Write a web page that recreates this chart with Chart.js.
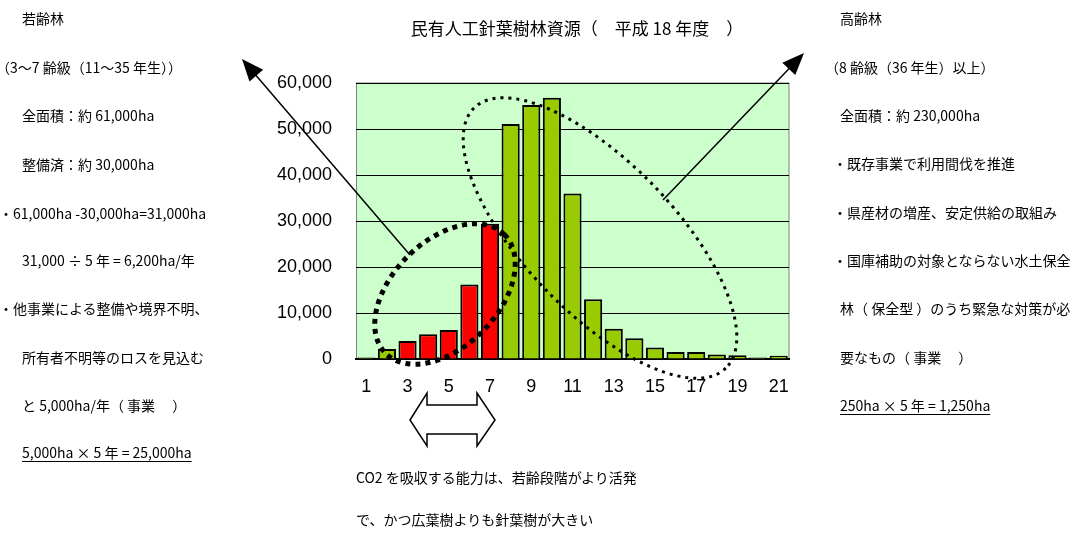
<!DOCTYPE html>
<html lang="ja">
<head>
<meta charset="utf-8">
<title>民有人工針葉樹林資源</title>
<script src="https://cdn.jsdelivr.net/npm/chart.js@4.4.1/dist/chart.umd.min.js"></script>
<style>
    html, body { margin: 0; padding: 0; background: #fff; }
    #page { position: relative; width: 1076px; height: 534px; overflow: hidden; }
    #page canvas { position: absolute; left: 0; top: 0; }
    .t { position: absolute; font-family: "Noto Sans CJK JP", sans-serif; font-size: 14px; line-height: 20px; color: #000; white-space: pre; }
    .u { text-decoration: underline; text-underline-offset: 3px; }
    #title { position: absolute; left: 0; width: 1154px; top: 17px; text-align: center; font-family: "Noto Sans CJK JP", sans-serif; font-size: 17px; line-height: 22px; white-space: pre; }
</style>
</head>
<body>
<div id="page">
    <canvas id="forestChart" width="1076" height="534"></canvas>
    <div id="title">民有人工針葉樹林資源（　平成 18 年度　）</div>
</div>
<script>
// 齢級ごとの面積 (ha)
const ageClasses = ['1', '2', '3', '4', '5', '6', '7', '8', '9', '10', '11',
                    '12', '13', '14', '15', '16', '17', '18', '19', '20', '21'];
const areaValues = [300, 2200, 3900, 5400, 6300, 16200, 29400, 51100, 55200, 56800, 36000,
                    13000, 6600, 4500, 2500, 1500, 1500, 1000, 800, 300, 700];
const youngClasses = ['3', '4', '5', '6', '7'];
const yMax = 60000;
const yStep = 10000;

// 注記テキスト [文字, left, 行の中心y, 下線]
const leftNotes = [
    ['若齢林', 22, 18],
    ['（3～7 齢級（11～35 年生））', -4, 67],
    ['全面積：約 61,000ha', 22, 115],
    ['整備済：約 30,000ha', 22, 164],
    ['・61,000ha -30,000ha=31,000ha', -1, 213],
    ['31,000 ÷ 5 年 = 6,200ha/年', 22, 260],
    ['・他事業による整備や境界不明、', -1, 308],
    ['所有者不明等のロスを見込む', 22, 357],
    ['と 5,000ha/年（ 事業　 ）', 22, 405],
    ['5,000ha × 5 年 = 25,000ha', 22, 452, true]
];
const rightNotes = [
    ['高齢林', 840, 18],
    ['（8 齢級（36 年生）以上）', 825, 67],
    ['全面積：約 230,000ha', 840, 115],
    ['・既存事業で利用間伐を推進', 833, 163],
    ['・県産材の増産、安定供給の取組み', 833, 212],
    ['・国庫補助の対象とならない水土保全', 833, 260],
    ['林（ 保全型 ）のうち緊急な対策が必', 840, 308],
    ['要なもの（ 事業　 ）', 840, 357],
    ['250ha × 5 年 = 1,250ha', 840, 405, true]
];
const bottomNotes = [
    ['CO2 を吸収する能力は、若齢段階がより活発', 356, 477],
    ['で、かつ広葉樹よりも針葉樹が大きい', 356, 519]
];

const page = document.getElementById('page');
[...leftNotes, ...rightNotes, ...bottomNotes].forEach(function(n) {
    const d = document.createElement('div');
    d.className = 't' + (n[3] ? ' u' : '');
    d.textContent = n[0];
    d.style.left = n[1] + 'px';
    d.style.top = (n[2] - 10) + 'px';
    page.appendChild(d);
});

// プロットエリアの背景
const plotBackground = {
    id: 'plotBackground',
    beforeDraw: function(chart) {
        const a = chart.chartArea;
        const ctx = chart.ctx;
        ctx.save();
        ctx.fillStyle = '#CCFFCC';
        ctx.fillRect(a.left, a.top, a.right - a.left, a.bottom - a.top);
        ctx.strokeStyle = '#808080';
        ctx.lineWidth = 1;
        ctx.strokeRect(a.left + 0.5, a.top, a.right - a.left - 0.5, a.bottom - a.top);
        ctx.restore();
    }
};

// 点線の楕円と矢印
function arrowLine(ctx, x1, y1, x2, y2) {
    const ang = Math.atan2(y2 - y1, x2 - x1);
    const len = 22, half = 9;
    ctx.beginPath();
    ctx.moveTo(x1, y1);
    ctx.lineTo(x2 - Math.cos(ang) * (len - 2), y2 - Math.sin(ang) * (len - 2));
    ctx.stroke();
    ctx.beginPath();
    ctx.moveTo(x2, y2);
    ctx.lineTo(x2 - Math.cos(ang) * len - Math.sin(ang) * half, y2 - Math.sin(ang) * len + Math.cos(ang) * half);
    ctx.lineTo(x2 - Math.cos(ang) * len + Math.sin(ang) * half, y2 - Math.sin(ang) * len - Math.cos(ang) * half);
    ctx.closePath();
    ctx.fill();
}

const annotations = {
    id: 'annotations',
    afterDraw: function(chart) {
        const ctx = chart.ctx;
        ctx.save();
        ctx.strokeStyle = '#000';
        ctx.fillStyle = '#000';

        // 高齢林の楕円
        ctx.setLineDash([3, 5]);
        ctx.lineWidth = 3;
        ctx.beginPath();
        ctx.ellipse(600, 238, 181, 75, 46 * Math.PI / 180, 0, Math.PI * 2);
        ctx.stroke();

        // 若齢林の楕円
        ctx.setLineDash([5, 5]);
        ctx.lineWidth = 5;
        ctx.beginPath();
        ctx.ellipse(445, 294, 84, 53, -45 * Math.PI / 180, 0, Math.PI * 2);
        ctx.stroke();

        // 矢印
        ctx.setLineDash([]);
        ctx.lineWidth = 1.5;
        arrowLine(ctx, 410, 255, 242, 59);
        arrowLine(ctx, 663, 200, 804, 53);

        // 両矢印
        ctx.fillStyle = '#fff';
        ctx.beginPath();
        ctx.moveTo(410, 420);
        ctx.lineTo(427, 393);
        ctx.lineTo(427, 405);
        ctx.lineTo(477, 405);
        ctx.lineTo(477, 393);
        ctx.lineTo(495, 420);
        ctx.lineTo(477, 446);
        ctx.lineTo(477, 434);
        ctx.lineTo(427, 434);
        ctx.lineTo(427, 446);
        ctx.closePath();
        ctx.fill();
        ctx.stroke();
        ctx.restore();
    }
};

new Chart(document.getElementById('forestChart'), {
    type: 'bar',
    data: {
        labels: ageClasses,
        datasets: [{
            label: '面積',
            data: areaValues,
            backgroundColor: ageClasses.map(function(c) {
                return youngClasses.includes(c) ? '#FF0000' : '#99CC00';
            }),
            borderColor: '#000',
            borderWidth: 2,
            borderSkipped: 'bottom',
            barPercentage: 0.88,
            categoryPercentage: 1.0
        }]
    },
    options: {
        responsive: false,
        animation: false,
        devicePixelRatio: 1,
        layout: {
            padding: { left: 270, right: 287, top: 83, bottom: 135 }
        },
        plugins: {
            legend: { display: false },
            title: { display: false },
            tooltip: { enabled: false }
        },
        scales: {
            x: {
                afterFit: function(s) { s.height = 40; },
                grid: { display: false, drawTicks: false },
                border: { color: '#000', width: 2 },
                ticks: {
                    autoSkip: false,
                    maxRotation: 0,
                    padding: 17,
                    color: '#000',
                    font: { family: "'Liberation Sans', Arial, sans-serif", size: 18 },
                    callback: function(value, index) {
                        return index % 2 === 0 ? ageClasses[index] : '';
                    }
                }
            },
            y: {
                min: 0,
                max: yMax,
                afterFit: function(s) { s.width = 86; },
                grid: { color: '#000', lineWidth: 1, drawTicks: false },
                border: { display: false },
                ticks: {
                    stepSize: yStep,
                    padding: 24,
                    color: '#000',
                    font: { family: "'Liberation Sans', Arial, sans-serif", size: 18 },
                    callback: function(value) {
                        return value.toLocaleString('en-US');
                    }
                }
            }
        }
    },
    plugins: [plotBackground, annotations]
});
</script>
</body>
</html>
